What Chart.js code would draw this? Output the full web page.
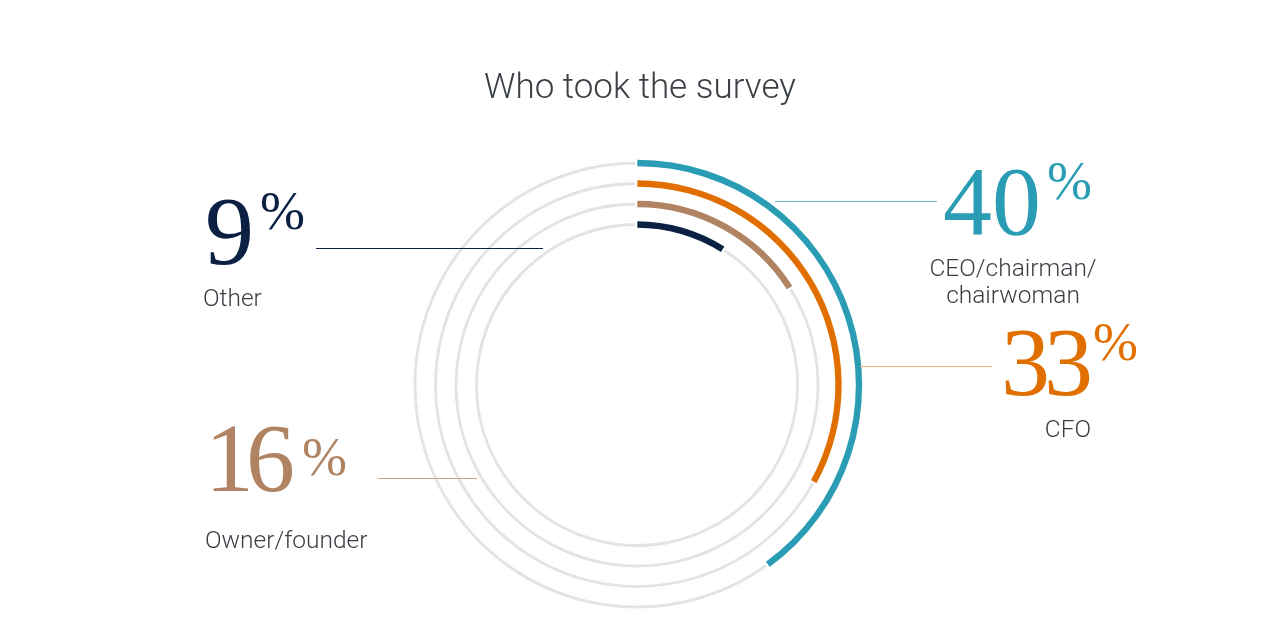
<!DOCTYPE html>
<html>
<head>
<meta charset="utf-8">
<script src="https://cdn.jsdelivr.net/npm/chart.js@4.4.1/dist/chart.umd.min.js"></script>
<style>
  html, body { margin: 0; padding: 0; background: #fff; }
  #wrap { position: relative; width: 1280px; height: 630px; overflow: hidden; }
  #wrap canvas { position: absolute; left: 0; top: 0; }
  .title { position: absolute; left: 0; width: 1280px; top: 66px; text-align: center;
    font-family: Roboto, sans-serif; font-weight: 300; font-size: 35px; color: #3a3f45; }
  .lbl { position: absolute; font-family: Roboto, sans-serif; font-weight: 300; font-size: 24.5px;
    color: #3a3f45; line-height: 27px; white-space: nowrap; }
  .num { position: absolute; font-family: "Liberation Serif", serif; font-size: 98px; line-height: 1; white-space: nowrap; }
  .num sup { font-size: 54px; vertical-align: top; position: relative; top: 2px; margin-left: 6px; letter-spacing: 0; }
  #n1 .d { letter-spacing: -6px; }
  #n2 .d { letter-spacing: -8px; }
  #n2 sup { top: 21px; margin-left: 15px; }
  .rule { position: absolute; height: 1px; }
</style>
</head>
<body>
<div id="wrap">
  <canvas id="ringChart"></canvas>
  <div class="title">Who took the survey</div>

  <div class="rule" style="left:775px; top:201px; width:162px; background:#7ab9c9;"></div>
  <div class="rule" style="left:860px; top:366px; width:132px; background:#f0b478;"></div>
  <div class="rule" style="left:316px; top:248px; width:227px; background:#0d2244;"></div>
  <div class="rule" style="left:378px; top:478px; width:99px; background:#c9a384;"></div>

  <div class="num" id="n0" style="left:943px; top:152px;"></div>
  <div class="lbl" id="l0" style="left:913px; top:254px; width:200px; text-align:center;"></div>
  <div class="num" id="n1" style="left:1001px; top:313px;"></div>
  <div class="lbl" id="l1" style="left:968px; top:415px; width:200px; text-align:center;"></div>
  <div class="num" id="n2" style="left:205px; top:409px;"></div>
  <div class="lbl" id="l2" style="left:205px; top:526px;"></div>
  <div class="num" id="n3" style="left:205px; top:182px;"></div>
  <div class="lbl" id="l3" style="left:203px; top:284px;"></div>
</div>
<script>
// 受訪者職位分布
var roles = ['CEO/chairman/<br>chairwoman', 'CFO', 'Owner/founder', 'Other'];
var shares = [40, 33, 16, 9];
var roleColors = ['#2a9db5', '#e06f00', '#b08462', '#0c2043'];
var trackColor = '#e3e3e3';

// 文字標籤
roles.forEach(function(r, i) {
    var n = document.getElementById('n' + i);
    n.innerHTML = '<span class="d">' + shares[i] + '</span><sup>%</sup>';
    n.style.color = roleColors[i];
    document.getElementById('l' + i).innerHTML = r;
});

// 每一圈：彩色弧 + 灰色底線，中間用透明圈隔開
var datasets = [];
shares.forEach(function(v, i) {
    if (i > 0) {
        datasets.push({
            data: [100],
            backgroundColor: ['rgba(0,0,0,0)'],
            borderWidth: 0,
            weight: 13.5
        });
    }
    datasets.push({
        data: [v, 100 - v],
        backgroundColor: [roleColors[i], trackColor],
        borderColor: '#fff',
        borderWidth: [0, 1.75],
        borderAlign: 'inner',
        weight: 7
    });
});

var ctx = document.getElementById('ringChart').getContext('2d');
var ringChart = new Chart(ctx, {
    type: 'doughnut',
    data: {
        labels: ['share', 'rest'],
        datasets: datasets
    },
    options: {
        responsive: true,
        maintainAspectRatio: false,
        animation: false,
        events: [],
        cutout: 157,
        layout: {
            padding: { top: 159.5, bottom: 19.5, left: 0, right: 6 }
        },
        plugins: {
            legend: { display: false },
            tooltip: { enabled: false }
        }
    }
});
</script>
</body>
</html>
